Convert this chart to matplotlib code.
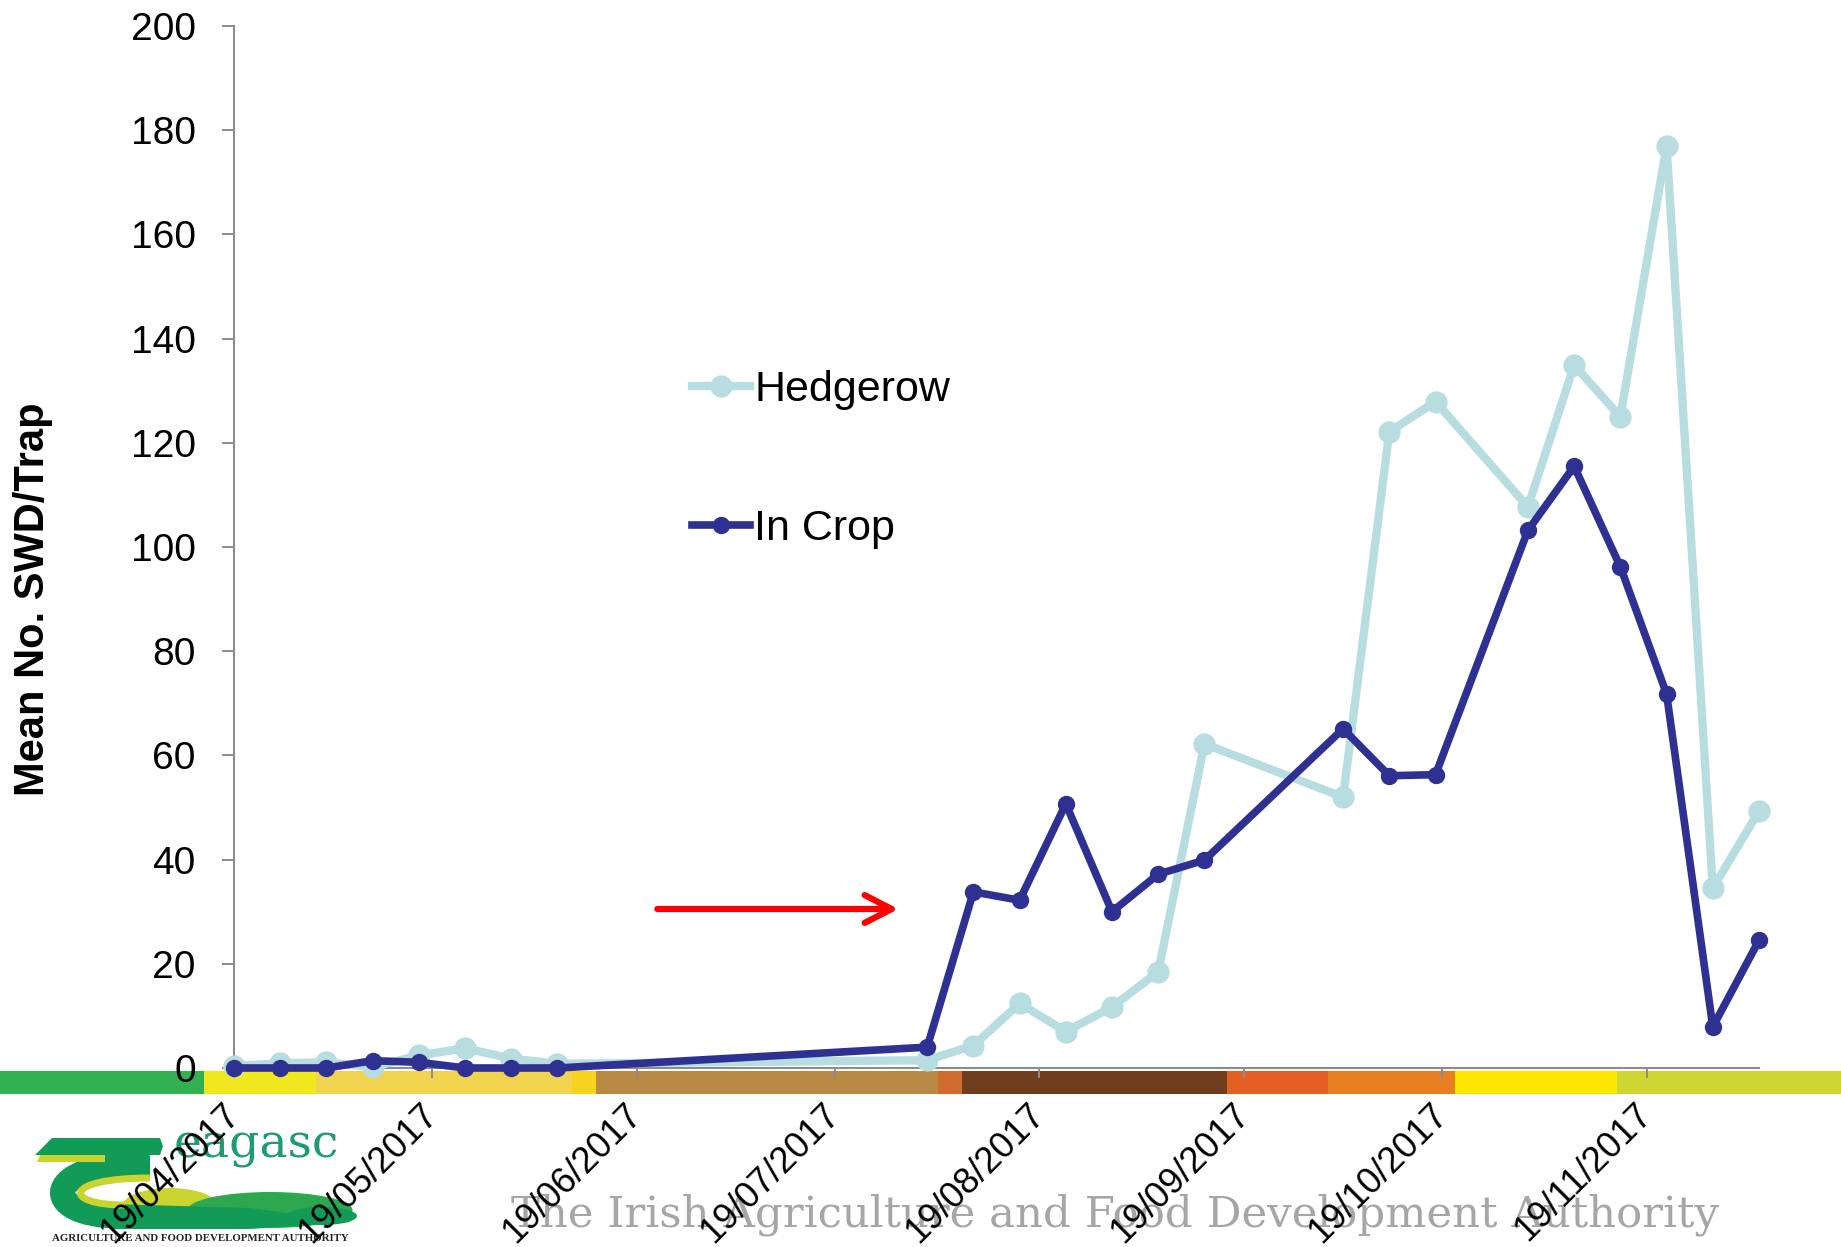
import matplotlib
matplotlib.use('Agg')
import matplotlib.pyplot as plt
import matplotlib.dates as mdates
from matplotlib.patches import Rectangle, Polygon, Ellipse, PathPatch
from matplotlib.path import Path
import numpy as np

plt.rcParams['font.family'] = ['Liberation Sans', 'DejaVu Sans']

# weekly trap counts, 2017 season
trap_dates = np.array(['2017-04-19', '2017-04-26', '2017-05-03', '2017-05-10',
                       '2017-05-17', '2017-05-24', '2017-05-31', '2017-06-07',
                       '2017-08-02', '2017-08-09', '2017-08-16', '2017-08-23',
                       '2017-08-30', '2017-09-06', '2017-09-13', '2017-10-04',
                       '2017-10-11', '2017-10-18', '2017-11-01', '2017-11-08',
                       '2017-11-15', '2017-11-22', '2017-11-29', '2017-12-06'],
                      dtype='datetime64[D]')
hedgerow = [0.4, 0.9, 1.1, 0.2, 2.4, 3.8, 1.8, 0.8,
            1.5, 4.3, 12.4, 7.0, 11.7, 18.5, 62.2, 52.0,
            122.1, 127.9, 107.7, 134.9, 125.0, 177.0, 34.5, 49.3]
in_crop = [0.0, 0.0, 0.0, 1.4, 1.1, 0.0, 0.0, 0.0,
           4.0, 33.8, 32.2, 50.7, 30.0, 37.2, 39.9, 65.1,
           56.1, 56.3, 103.2, 115.5, 96.2, 71.8, 7.9, 24.5]
series_names = ['Hedgerow', 'In Crop']

# seasonal colour strip under the axis (pixel edges across the figure)
band_edges = [0, 204, 316, 572, 596, 938, 962, 1227, 1328, 1455, 1617, 1841]
band_colours = ['#33B152', '#EEE81C', '#F0D34E', '#F6D41E', '#B98A43', '#CF6B2C',
                '#6F3F1D', '#E35F22', '#E67E22', '#FFE600', '#CED633']

W, H = 1841, 1247
fig = plt.figure(figsize=(W / 100, H / 100), dpi=100)
fig.patch.set_facecolor('white')

def fx(px):
    return px / W

def fy(py):
    return 1 - py / H

for x0, x1, c in zip(band_edges[:-1], band_edges[1:], band_colours):
    fig.add_artist(Rectangle((fx(x0), fy(1094)), fx(x1 - x0), 23 / H,
                             transform=fig.transFigure, facecolor=c,
                             edgecolor='none', zorder=-2))

ax = fig.add_axes([fx(234), fy(1068), fx(1759 - 234), (1068 - 26) / H])
ax.set_zorder(1)
ax.patch.set_alpha(0)

ax.plot(trap_dates, hedgerow, color='#B7DDE0', lw=6, marker='o', ms=15,
        label=series_names[0], clip_on=False, zorder=3)
ax.plot(trap_dates, in_crop, color='#2E3192', lw=5.5, marker='o', ms=11.5,
        label=series_names[1], clip_on=False, zorder=4)

ax.set_xlim(np.datetime64('2017-04-19'), np.datetime64('2017-12-06'))
ax.set_ylim(0, 200)
ax.set_yticks(range(0, 201, 20))
ax.xaxis.set_major_locator(mdates.MonthLocator(bymonthday=19))
ax.xaxis.set_major_formatter(mdates.DateFormatter('%d/%m/%Y'))

for side in ['top', 'right']:
    ax.spines[side].set_visible(False)
for side in ['left', 'bottom']:
    ax.spines[side].set_color('#8C8C8C')
    ax.spines[side].set_linewidth(1.5)

ax.tick_params(axis='x', direction='out', length=7, width=1.4, color='#8C8C8C',
               pad=22.5, labelsize=26)
ax.tick_params(axis='y', direction='out', length=8.6, width=1.4, color='#8C8C8C',
               pad=19, labelsize=28)
plt.setp(ax.get_xticklabels(), rotation=45, ha='right', va='center',
         rotation_mode='anchor')

fig.text(fx(33), fy(599), 'Mean No. SWD/Trap', rotation=90, fontsize=30,
         fontweight='bold', ha='center', va='center')

ax.legend(loc='upper left', bbox_to_anchor=(fx(692), fy(370)),
          bbox_transform=fig.transFigure, frameon=False, fontsize=31,
          handlelength=1.35, handletextpad=0.1, labelspacing=2.29,
          borderpad=0, borderaxespad=0)

ax.annotate('', xy=(0.4357, 0.1526), xytext=(0.2776, 0.1526),
            xycoords='axes fraction',
            arrowprops=dict(arrowstyle='->,head_length=0.97,head_width=0.5',
                            color='#FF0000', lw=4.5, mutation_scale=20,
                            shrinkA=0, shrinkB=0, capstyle='round'))

fig.text(fx(511), fy(1227), 'The Irish Agriculture and Food Development Authority',
         family='DejaVu Serif', fontsize=31.3, color='#A6A6A6',
         ha='left', va='baseline', zorder=-1)

# logo in the bottom-left corner, drawn in pixel units
logo = fig.add_axes([0, 0, fx(380), 127 / H])
logo.set_zorder(-1)
logo.set_xlim(0, 380)
logo.set_ylim(1247, 1120)
logo.axis('off')

dark = '#129B57'
mid = '#2DA84F'
lime = '#C9D430'
logo.add_patch(Ellipse((170, 1206), 95, 36, color=lime, lw=0))
logo.add_patch(Ellipse((270, 1210), 165, 36, color=mid, lw=0))
logo.add_patch(Ellipse((322, 1216), 70, 18, color=dark, lw=0))
logo.add_patch(Polygon([(110, 1204), (250, 1208), (352, 1222), (250, 1229),
                        (110, 1229)], color=dark, lw=0))
c_path = Path([(150, 1163), (40, 1163), (38, 1216), (120, 1216)],
              [Path.MOVETO, Path.CURVE4, Path.CURVE4, Path.CURVE4])
logo.add_patch(PathPatch(c_path, facecolor='none', edgecolor=dark, lw=18,
                         capstyle='butt'))
y_path = Path([(150, 1178), (62, 1178), (62, 1205), (125, 1205)],
              [Path.MOVETO, Path.CURVE4, Path.CURVE4, Path.CURVE4])
logo.add_patch(PathPatch(y_path, facecolor='none', edgecolor=lime, lw=5,
                         capstyle='butt'))
logo.add_patch(Polygon([(37, 1162), (41, 1153), (105, 1153), (105, 1162)],
                       color=lime, lw=0))
logo.add_patch(Polygon([(35, 1155), (52, 1138), (160, 1138), (163, 1146),
                        (160, 1155)], color=dark, lw=0))
logo.text(174, 1158, 'eagasc', family='DejaVu Serif', fontsize=34,
          color='#1E9B73', ha='left', va='baseline')
logo.text(200, 1241, 'AGRICULTURE AND FOOD DEVELOPMENT AUTHORITY',
          family='Liberation Serif', fontweight='bold', fontsize=7.8,
          color='#222222', ha='center', va='baseline')

fig.savefig('out.png', dpi=100)
